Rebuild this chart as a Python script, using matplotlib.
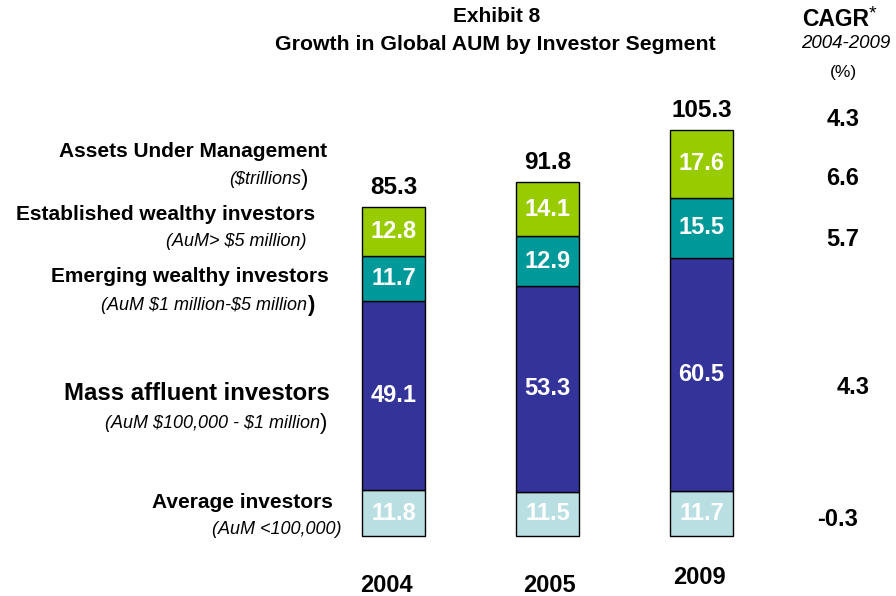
import numpy as np
import matplotlib
matplotlib.use("Agg")
from matplotlib import pyplot as plt

plt.rcParams['font.family'] = ['Liberation Sans', 'DejaVu Sans']

years = ["2004", "2005", "2009"]
average = [11.8, 11.5, 11.7]
mass_affluent = [49.1, 53.3, 60.5]
emerging = [11.7, 12.9, 15.5]
established = [12.8, 14.1, 17.6]
totals = [85.3, 91.8, 105.3]
cagr = ["4.3", "6.6", "5.7", "4.3", "-0.3"]

segments = [average, mass_affluent, emerging, established]
colors = ["#BADFE3", "#333399", "#009999", "#99CC00"]

W, H = 896, 596


def fx(px):
    return px / W


def fy(py):
    return 1 - py / H


fig = plt.figure(figsize=(8.96, 5.96), dpi=100)
ax = fig.add_axes([0, 0, 1, 1])
ax.axis('off')

# axis scale: category step 154 px, 3.857 px per $tn, baseline at y=536
step = 154.0
scale = 3.857
ax.set_xlim(-393.5 / step, (W - 393.5) / step)
ax.set_ylim(-(H - 536) / scale, 536 / scale)

x = np.arange(len(years))
bottom = np.zeros(len(years))
for vals, col in zip(segments, colors):
    ax.bar(x, vals, width=63 / step, bottom=bottom, color=col,
           edgecolor="black", linewidth=1)
    for xi, b, v in zip(x, bottom, vals):
        ax.text(xi, b + v / 2, f"{v:.1f}", ha="center", va="center",
                color="white", fontsize=17, fontweight="bold")
    bottom += np.array(vals)

for xi, t in zip(x, totals):
    ax.text(xi, t + 5.0, f"{t:.1f}", ha="center", va="center",
            fontsize=17.5, fontweight="bold")

# year labels
year_x = [386.5, 549, 699.5]
year_y = [585, 585, 577]
for yr, xx, yy in zip(years, year_x, year_y):
    fig.text(fx(xx), fy(yy), yr, ha="center", va="center",
             fontsize=17, fontweight="bold")

# titles
fig.text(fx(497), fy(17), "Exhibit 8", ha="center", va="center",
         fontsize=15, fontweight="bold")
fig.text(fx(495), fy(44), "Growth in Global AUM by Investor Segment",
         ha="center", va="center", fontsize=15.3, fontweight="bold")
fig.text(fx(869), fy(19), "CAGR", ha="right", va="center",
         fontsize=16.5, fontweight="bold")
fig.text(fx(869), fy(14), "*", ha="left", va="center", fontsize=14)
fig.text(fx(846), fy(44), "2004-2009", ha="center", va="center",
         fontsize=13.5, style="italic")
fig.text(fx(843), fy(72), "(%)", ha="center", va="center", fontsize=12.5)

cagr_pos = [(843, 120), (843, 178), (843, 240), (853, 387), (838, 520)]
for val, (px, py) in zip(cagr, cagr_pos):
    fig.text(fx(px), fy(py), val, ha="center", va="center",
             fontsize=17, fontweight="bold")

# left side labels
labels = [
    ("Assets Under Management", 327, 151, 15),
    ("Established wealthy investors", 315, 215, 15),
    ("Emerging wealthy investors", 329, 277, 15),
    ("Mass affluent investors", 330, 393, 17.2),
    ("Average investors", 333, 502, 15),
]
for txt, px, py, fs in labels:
    fig.text(fx(px), fy(py), txt, ha="right", va="center",
             fontsize=fs, fontweight="bold")

sublabels = [
    ("(\\$trillions", 301, 180, ")"),
    ("(AuM> \\$5 million)", 307, 241, ""),
    ("(AuM \\$1 million-\\$5 million", 307, 305, ")"),
    ("(AuM \\$100,000 - \\$1 million", 320, 423, ")"),
    ("(AuM <100,000)", 342, 530, ""),
]
for txt, px, py, close in sublabels:
    fig.text(fx(px), fy(py), txt, ha="right", va="center",
             fontsize=13, style="italic")
    if close:
        fig.text(fx(px), fy(py), close, ha="left", va="center",
                 fontsize=16, fontweight="bold" if "5 million" in txt else "normal")

fig.savefig("out.png", dpi=100)
